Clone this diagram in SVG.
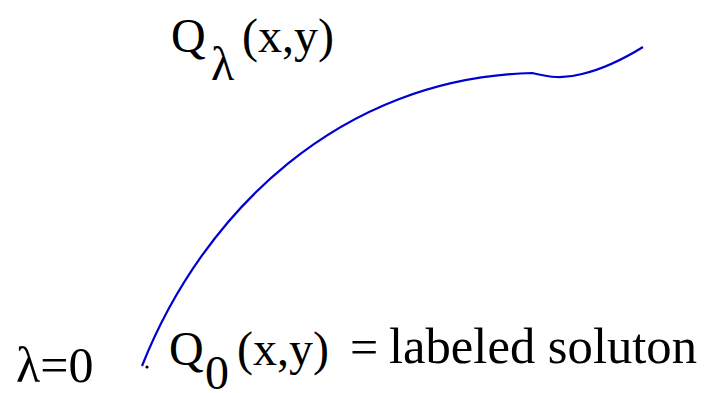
<svg xmlns="http://www.w3.org/2000/svg" width="704" height="393" viewBox="0 0 704 393">
<style>
text{font-family:"Liberation Serif","Times New Roman",serif;fill:#000;}
.t{font-size:48px;}
.b{font-size:50px;}
.curve{fill:none;stroke:#0000d0;stroke-width:2.2;}
</style>
<rect width="704" height="393" fill="#fff"/>
<g id="connectors">
<path class="curve" d="M142,366 C203,212 340,78 532,73 C546,76 560,80 582,74 C603,69 622,60 643,47"/>
</g>
<g id="label-q-lambda">
<text class="t" x="171" y="52">Q</text>
<text class="t" x="211" y="80">λ</text>
<text class="t" x="242" y="52">(x,y)</text>
</g>
<g id="label-lambda0">
<text class="b" x="16" y="382">λ=0</text>
</g>
<g id="dot"><circle cx="147" cy="367" r="1.6" fill="#000"/></g>
<g id="label-q0">
<text class="t" x="169" y="365">Q</text>
<text class="t" x="205" y="389">0</text>
<text class="t" x="237" y="365">(x,y)</text>
<text class="b" x="350" y="364">=</text>
<text class="b" x="389" y="363" textLength="308" lengthAdjust="spacingAndGlyphs">labeled soluton</text>
</g>
</svg>
